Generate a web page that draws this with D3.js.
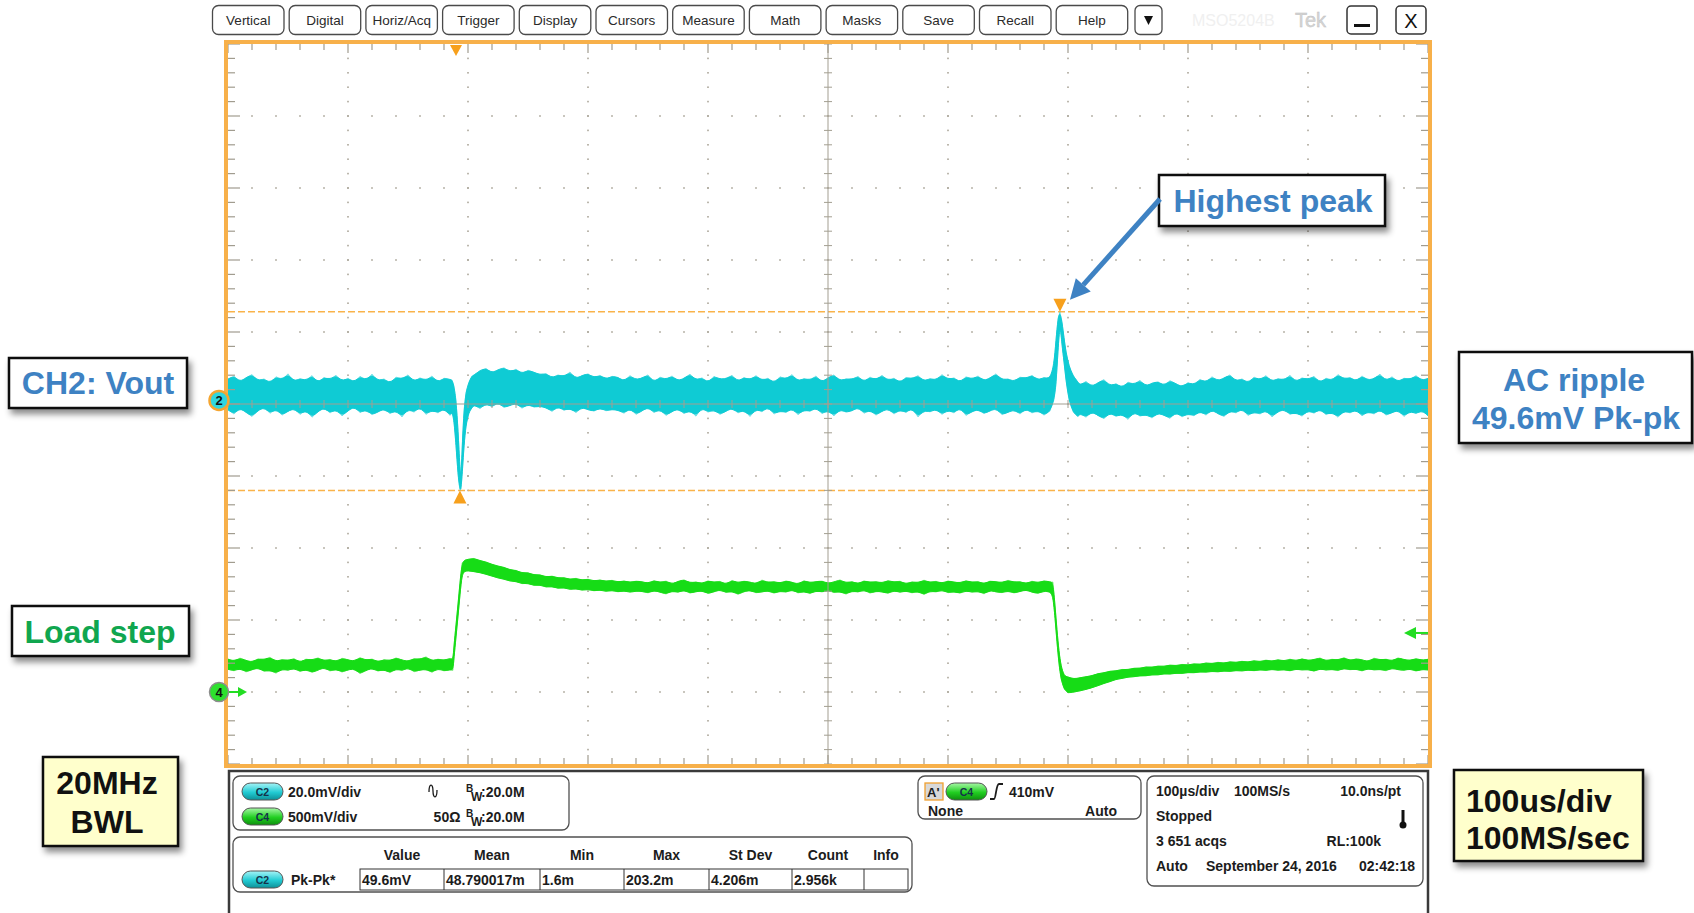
<!DOCTYPE html>
<html>
<head>
<meta charset="utf-8">
<script src="https://cdn.jsdelivr.net/npm/d3@7"></script>
<style>
  html, body { margin: 0; padding: 0; background: #fff; }
  svg { display: block; font-family: "Liberation Sans", Arial, sans-serif; }
</style>
</head>
<body>
<svg id="scope" width="1694" height="913"></svg>
<script>
// ---------------- menu / readout text ----------------
const menuLabels = ["Vertical", "Digital", "Horiz/Acq", "Trigger", "Display", "Cursors",
                    "Measure", "Math", "Masks", "Save", "Recall", "Help"];

const chanLabels = ["C2", "C4"];
const chanScales = ["20.0mV/div", "500mV/div"];
const chanCoupling = ["", "50\u03A9"];
const chanBandwidth = [":20.0M", ":20.0M"];

const measHeaders = ["Value", "Mean", "Min", "Max", "St Dev", "Count", "Info"];
const measStats = ["48.790017m", "1.6m", "203.2m", "4.206m", "2.956k", ""];

const trigLevel = 410; // mV on CH4

// ---------------- CH2 (Vout, 20 mV/div) envelope, mV, 5 us display grid from -190 us ----------------
const ch2Hi = [
  5.9, 6.8, 5.1, 6.3, 7.2, 5.4, 6.0, 4.8, 6.6, 5.7, 7.4, 5.2, 6.1, 5.5, 6.9, 4.9, 6.4, 5.8, 7.0, 5.3,
  6.2, 5.0, 6.7, 5.6, 7.3, 5.4, 6.0, 4.7, 6.5, 5.9, 7.1, 5.2, 6.3, 5.5, 6.8, 5.0, 6.2, 5.8,
  0.1, -15.0, 4.6,
  7.0, 8.3, 8.9, 7.6, 8.5, 9.1, 7.9, 8.7, 7.4, 8.4, 7.8, 7.1,
  7.5, 6.2, 7.1, 6.6, 7.9, 6.0, 6.9, 7.4, 6.3, 7.0, 5.9, 6.7,
  6.4, 5.3, 6.9, 5.7, 6.2, 7.1, 5.0, 6.5, 5.8, 6.8, 5.4, 6.1, 7.3, 5.6, 6.3, 4.9, 6.7, 5.9, 6.0, 7.0,
  5.2, 6.4, 5.7, 6.9, 5.5, 6.2, 4.8, 6.6, 5.9, 7.2, 5.3, 6.1, 5.6, 6.8, 5.0, 6.3, 7.1, 5.4, 6.0, 5.8,
  6.7, 5.1, 6.5, 5.7, 7.0, 5.5, 6.2, 4.9, 6.4, 6.0, 6.9, 5.3, 6.1, 5.6, 7.2, 5.8, 6.3, 5.0, 6.6, 5.9,
  6.8, 5.4, 6.2, 7.4, 5.7, 6.0, 5.2, 6.5, 6.1, 7.0, 5.6, 6.4, 5.9,
  16.8, 21.8, 10.3, 6.3,
  4.2, 5.3, 3.8, 4.9, 5.8, 4.0, 4.7, 3.5, 5.1, 4.4, 5.6, 3.9, 4.8, 5.2, 4.1, 5.5, 4.6, 3.7, 5.0, 4.3,
  5.9, 5.0, 6.6, 5.4, 6.2, 7.1, 5.3, 6.0, 4.8, 6.5, 5.7, 6.9, 5.2, 6.1, 5.6, 7.0, 5.1, 6.3, 5.8, 6.7,
  4.9, 6.2, 5.5, 7.2, 5.9, 6.4, 5.3, 6.8, 5.6, 6.0, 7.3, 5.4, 6.6, 5.1, 6.2, 5.8, 6.9, 5.5, 6.1
];
const ch2Lo = [
  -2.6, -3.8, -2.1, -3.3, -4.5, -2.8, -1.9, -3.6, -2.4, -4.1, -3.0, -2.2, -3.9, -2.7, -4.7, -3.1, -2.0, -3.5, -2.5, -4.3,
  -2.9, -1.7, -3.4, -2.6, -4.0, -3.2, -2.3, -3.7, -2.8, -4.6, -2.4, -3.3, -1.8, -3.9, -2.7, -3.5, -2.2, -4.2,
  -12.4, -21.0, -4.1,
  -1.2, -2.3, -0.9, -1.8, -0.6, -2.0, -1.4, -0.8, -2.2, -1.1, -1.9, -1.6,
  -2.0, -3.1, -1.7, -2.8, -2.2, -3.4, -1.9, -2.6, -3.0, -2.1, -2.9, -2.5,
  -2.7, -3.6, -2.2, -3.9, -2.9, -1.9, -3.4, -2.5, -4.2, -3.1, -2.3, -3.7, -2.8, -4.4, -2.0, -3.3, -2.6, -3.9, -3.0, -2.1,
  -3.5, -2.7, -4.5, -2.4, -3.2, -1.8, -3.8, -2.9, -3.4, -2.2, -4.0, -2.6, -3.1, -2.0, -3.7, -2.8, -4.3, -2.5, -3.3, -2.9,
  -1.9, -3.6, -2.7, -4.1, -3.0, -2.3, -3.8, -2.6, -3.4, -2.1, -4.6, -2.8, -3.2, -2.4, -3.9, -2.7, -3.5, -2.0, -4.2, -3.1,
  -2.5, -3.7, -2.9, -2.2, -4.0, -3.3, -2.6, -3.8, -2.3, -3.5, -2.8, -4.1, -3.0,
  4.3, 15.4, 1.9, -3.6,
  -3.6, -4.7, -3.1, -4.2, -5.1, -3.4, -4.5, -3.8, -5.3, -3.2, -4.4, -3.9, -4.9, -3.5, -4.1, -5.0, -3.3, -4.6, -3.7, -4.3,
  -3.0, -4.1, -2.6, -3.7, -4.5, -2.9, -3.5, -2.3, -4.2, -3.2, -3.8, -2.7, -4.6, -3.1, -2.5, -3.9, -3.4, -4.4, -2.8, -3.6,
  -2.4, -4.0, -3.3, -4.7, -2.9, -3.5, -2.6, -4.3, -3.1, -3.8, -2.5, -4.1, -3.4, -2.7, -4.5, -3.0, -3.7, -2.8, -4.2
];
// CH2 detail at the load step (us, mV)
const ch2StepT  = [-3.3, -1.7, 0, 1.7, 3.3, 4.2, 5.4, 6.7, 8.3, 10.8, 13.3];
const ch2StepHi = [5.7, 4.0, 0.1, -8.2, -19.3, -21.6, -11.0, -2.7, 2.3, 5.1, 6.8];
const ch2StepLo = [-3.2, -5.4, -12.4, -20.7, -25.0, -24.6, -19.3, -12.4, -6.8, -3.2, -2.1];
// CH2 detail at the load release (us, mV)
const ch2RelT  = [498.3, 500, 501.7, 503.3, 505, 506.7, 508.3, 510.8, 514.2, 518.3];
const ch2RelHi = [9.8, 16.8, 22.9, 24.6, 21.8, 17.3, 13.4, 9.6, 6.8, 5.1];
const ch2RelLo = [0.1, 4.3, 14.0, 21.8, 15.4, 10.7, 5.7, 0.1, -3.2, -4.6];

// ---------------- CH4 (load step, 500 mV/div) envelope, mV, same grid ----------------
const ch4Hi = [
  228, 214, 236, 219, 207, 231, 224, 242, 211, 226, 218, 233, 205, 229, 221, 238, 216, 227, 210, 235,
  223, 213, 240, 220, 230, 208, 225, 217, 237, 222, 212, 232, 226, 245, 215, 229, 219, 234,
  465, 896,
  921, 928, 912, 903, 886,
  874, 866, 848, 845, 826, 829, 812, 815, 798, 806, 791, 795, 781, 790, 776, 784, 770, 779, 768, 776,
  763, 772, 761, 770,
  766, 754, 775, 760, 771, 749, 768, 780, 757, 765, 752, 773, 761, 769, 747, 776, 758, 770, 763, 751,
  778, 760, 767, 755, 772, 762, 748, 774, 759, 766, 771, 753, 764, 779, 757, 768, 750, 773, 761, 767,
  756, 775, 762, 770, 749, 766, 758, 777, 760, 769, 754, 772, 763, 757, 774, 761, 768, 750, 771, 765,
  759, 776, 762, 767, 752, 770, 758, 773, 764,
  500, 150, 104,
  90, 99, 106, 113, 128, 133, 145, 146, 157, 155, 166, 164, 175, 171, 181, 177, 188, 182, 192, 186,
  197, 191, 203, 196, 207, 199, 211, 204, 214, 206, 219, 209, 223, 212, 226, 214, 229, 216, 232, 218,
  225, 237, 215, 228, 221, 240, 217, 231, 224, 210, 236, 222, 229, 214, 238, 225, 218, 233, 220, 227
];
const ch4Lo = [
  158, 147, 164, 139, 155, 168, 143, 151, 130, 160, 149, 166, 141, 157, 135, 152, 170, 145, 159, 138,
  154, 162, 127, 150, 165, 144, 156, 133, 161, 148, 169, 140, 153, 158, 136, 163, 146, 155,
  382, 819,
  842, 836, 829, 818, 805,
  792, 784, 770, 768, 752, 755, 739, 744, 728, 733, 719, 725, 711, 718, 706, 713, 702, 709, 698, 706,
  695, 703, 692, 701,
  699, 688, 705, 694, 680, 702, 691, 708, 686, 697, 703, 683, 696, 710, 690, 700, 677, 698, 706, 689,
  695, 704, 685, 701, 692, 711, 687, 699, 682, 703, 694, 707, 690, 698, 679, 702, 693, 709, 686, 700,
  696, 684, 705, 691, 703, 688, 699, 676, 701, 694, 708, 689, 697, 685, 704, 692, 700, 681, 706, 695,
  690, 702, 687, 698, 710, 693, 684, 701, 696,
  420, 60, -7,
  0, 8, 18, 30, 44, 60, 72, 88, 94, 104, 106, 113, 112, 120, 118, 127, 124, 131, 128, 136,
  133, 140, 137, 144, 139, 147, 142, 150, 145, 153, 147, 155, 149, 158, 150, 156, 146, 160, 152, 157,
  143, 162, 151, 158, 148, 165, 154, 160, 145, 163, 152, 158, 147, 166, 155, 150, 161, 144, 157, 153
];
// CH4 detail at the rising and falling edges (us, mV)
const ch4RiseT  = [-2.5, -1.7, 0, 1.7, 3.3, 5, 7.5];
const ch4RiseHi = [222, 319, 465, 611, 757, 896, 917];
const ch4RiseLo = [150, 236, 382, 528, 674, 819, 840];
const ch4FallT  = [497.5, 499.2, 500.8, 502.5, 504.2, 506.7, 510];
const ch4FallHi = [764, 597, 431, 278, 181, 111, 104];
const ch4FallLo = [667, 514, 347, 194, 90, 21, -7];

// ---------------- geometry & scales ----------------
const X0 = 228, X1 = 1428, Y0 = 44, Y1 = 764;
const timeScale = d3.scaleLinear().domain([-190, 810]).range([X0, X1]);   // 100 us/div
const divY = d3.scaleLinear().domain([-5, 5]).range([Y1, Y0]);
const ch2Div = 20, ch2Pos = 0.05;
const ch2Scale = d3.scaleLinear().domain([(-5 - ch2Pos) * ch2Div, (5 - ch2Pos) * ch2Div]).range([Y1, Y0]);
const ch4Div = 500, ch4Pos = -4;
const ch4Scale = d3.scaleLinear().domain([(-5 - ch4Pos) * ch4Div, (5 - ch4Pos) * ch4Div]).range([Y1, Y0]);
const gridT = d3.range(ch2Hi.length).map(i => -190 + 5 * i);

function envelope(hi, lo, events) {
  let pts = gridT.map((t, i) => ({ t, hi: hi[i], lo: lo[i] }));
  events.forEach(([T]) => {
    const [a, b] = d3.extent(T);
    pts = pts.filter(p => p.t < a || p.t > b);
  });
  events.forEach(([T, H, L]) => T.forEach((t, i) => pts.push({ t, hi: H[i], lo: L[i] })));
  return pts.sort((p, q) => p.t - q.t);
}
const ch2Pts = envelope(ch2Hi, ch2Lo, [[ch2StepT, ch2StepHi, ch2StepLo], [ch2RelT, ch2RelHi, ch2RelLo]]);
const ch4Pts = envelope(ch4Hi, ch4Lo, [[ch4RiseT, ch4RiseHi, ch4RiseLo], [ch4FallT, ch4FallHi, ch4FallLo]]);

const ch2MaxPt = ch2Pts.reduce((a, b) => (b.hi > a.hi ? b : a));
const ch2MinPt = ch2Pts.reduce((a, b) => (b.lo < a.lo ? b : a));
const pkpk = (ch2MaxPt.hi - ch2MinPt.lo).toFixed(1);

const svg = d3.select("#scope");
const defs = svg.append("defs");
const shadow = defs.append("filter").attr("id", "shadow")
  .attr("x", "-20%").attr("y", "-30%").attr("width", "150%").attr("height", "180%");
shadow.append("feDropShadow").attr("dx", 3).attr("dy", 5).attr("stdDeviation", 3)
  .attr("flood-color", "#000").attr("flood-opacity", 0.45);
function pillGradient(id, c0, c1, c2) {
  const g = defs.append("linearGradient").attr("id", id).attr("x1", 0).attr("y1", 0).attr("x2", 0).attr("y2", 1);
  g.append("stop").attr("offset", "0%").attr("stop-color", c0);
  g.append("stop").attr("offset", "55%").attr("stop-color", c1);
  g.append("stop").attr("offset", "100%").attr("stop-color", c2);
}
pillGradient("pillC2", "#a6f4f7", "#22cbd3", "#0d8f97");
pillGradient("pillC4", "#a6f7a6", "#22cf22", "#0e8f0e");
defs.append("clipPath").attr("id", "plotClip").append("rect")
  .attr("x", X0).attr("y", Y0).attr("width", X1 - X0).attr("height", Y1 - Y0);

// ---------------- top menu bar ----------------
const menu = svg.append("g");
menuLabels.forEach((lab, i) => {
  const x = 212.5 + 76.7 * i;
  menu.append("rect").attr("x", x).attr("y", 5.5).attr("width", 71.5).attr("height", 29).attr("rx", 6)
    .attr("fill", "#fff").attr("stroke", "#4a4a4a").attr("stroke-width", 1.3);
  menu.append("text").attr("x", x + 35.75).attr("y", 24.5).attr("text-anchor", "middle")
    .attr("font-size", 13.5).attr("fill", "#2a2a2a").text(lab);
});
menu.append("rect").attr("x", 1135).attr("y", 5.5).attr("width", 27).attr("height", 29).attr("rx", 5)
  .attr("fill", "#fff").attr("stroke", "#4a4a4a").attr("stroke-width", 1.3);
menu.append("path").attr("d", "M1144,16 L1153,16 L1148.5,25 Z").attr("fill", "#111");
menu.append("text").attr("x", 1192).attr("y", 26).attr("font-size", 16).attr("fill", "#f0f0f0").text("MSO5204B");
menu.append("text").attr("x", 1295).attr("y", 27).attr("font-size", 20).attr("fill", "#d6d6d6")
  .attr("stroke", "#bdbdbd").attr("stroke-width", 0.4).text("Tek");
menu.append("rect").attr("x", 1347).attr("y", 6).attr("width", 30).attr("height", 28).attr("rx", 4)
  .attr("fill", "#fff").attr("stroke", "#333").attr("stroke-width", 1.5);
menu.append("rect").attr("x", 1354).attr("y", 24).attr("width", 16).attr("height", 3).attr("fill", "#111");
menu.append("rect").attr("x", 1396).attr("y", 6).attr("width", 30).attr("height", 28).attr("rx", 4)
  .attr("fill", "#fff").attr("stroke", "#333").attr("stroke-width", 1.5);
menu.append("text").attr("x", 1411).attr("y", 28).attr("text-anchor", "middle").attr("font-size", 20)
  .attr("fill", "#111").text("X");

// ---------------- graticule ----------------
const grat = svg.append("g");
const minorT = d3.range(0, 51).map(i => -190 + 20 * i);
const minorD = d3.range(0, 51).map(i => -5 + 0.2 * i);
const majorT = d3.range(1, 10).map(i => -190 + 100 * i).filter(t => t !== 310);
const majorD = [-4, -3, -2, -1, 1, 2, 3, 4];
const dotColor = "#aca79b";
majorT.forEach(t => minorD.slice(1, -1).forEach(d => {
  grat.append("rect").attr("x", timeScale(t) - 0.8).attr("y", divY(d) - 0.8)
    .attr("width", 1.6).attr("height", 1.6).attr("fill", dotColor);
}));
majorD.forEach(d => minorT.slice(1, -1).forEach(t => {
  grat.append("rect").attr("x", timeScale(t) - 0.8).attr("y", divY(d) - 0.8)
    .attr("width", 1.6).attr("height", 1.6).attr("fill", dotColor);
}));

// cursors (peak / trough of CH2)
const cursors = svg.append("g");
[ch2MaxPt.hi, ch2MinPt.lo].forEach(v => {
  cursors.append("line").attr("x1", X0).attr("x2", X1).attr("y1", ch2Scale(v)).attr("y2", ch2Scale(v))
    .attr("stroke", "#f9b34a").attr("stroke-width", 1.5).attr("stroke-dasharray", "7,3");
});

// ---------------- traces: min/max envelope, fuzzy outer edge + dense core ----------------
const traces = svg.append("g").attr("clip-path", "url(#plotClip)");
function drawTrace(pts, scale, color) {
  const outer = d3.area().x(d => timeScale(d.t)).y0(d => scale(d.lo)).y1(d => scale(d.hi));
  const core = d3.area().curve(d3.curveBasis).x(d => timeScale(d.t)).y0(d => scale(d.lo)).y1(d => scale(d.hi));
  traces.append("path").attr("d", outer(pts)).attr("fill", color).attr("fill-opacity", 0.55)
    .attr("stroke", color).attr("stroke-opacity", 0.45).attr("stroke-width", 0.8);
  traces.append("path").attr("d", core(pts)).attr("fill", color)
    .attr("stroke", color).attr("stroke-width", 1).attr("stroke-linejoin", "round");
}
drawTrace(ch4Pts, ch4Scale, "#16dc16");
drawTrace(ch2Pts, ch2Scale, "#0fcbd4");

// center cross with ticks
const cross = svg.append("g").attr("stroke", "#a39e91").attr("stroke-width", 1);
const cx = timeScale(310), cy = divY(0);
cross.append("line").attr("x1", cx).attr("x2", cx).attr("y1", Y0).attr("y2", Y1);
cross.append("line").attr("x1", X0).attr("x2", X1).attr("y1", cy).attr("y2", cy);
minorT.forEach(t => cross.append("line").attr("x1", timeScale(t)).attr("x2", timeScale(t))
  .attr("y1", cy - 4).attr("y2", cy + 4));
minorD.forEach(d => cross.append("line").attr("x1", cx - 4).attr("x2", cx + 4)
  .attr("y1", divY(d)).attr("y2", divY(d)));

// frame ticks
const fticks = svg.append("g").attr("stroke", "#a19c8f").attr("stroke-width", 1.2);
minorT.forEach((t, i) => {
  const x = timeScale(t), len = i % 5 === 0 ? 9 : 6;
  fticks.append("line").attr("x1", x).attr("x2", x).attr("y1", Y0).attr("y2", Y0 + len);
  fticks.append("line").attr("x1", x).attr("x2", x).attr("y1", Y1).attr("y2", Y1 - len);
});
minorD.forEach((d, i) => {
  const y = divY(d), len = i % 5 === 0 ? 12 : 7;
  fticks.append("line").attr("x1", X0).attr("x2", X0 + len).attr("y1", y).attr("y2", y);
  fticks.append("line").attr("x1", X1).attr("x2", X1 - len).attr("y1", y).attr("y2", y);
});

// orange frame
svg.append("rect").attr("x", X0 - 2).attr("y", Y0 - 2).attr("width", X1 - X0 + 4).attr("height", Y1 - Y0 + 4)
  .attr("fill", "none").attr("stroke", "#f7b04a").attr("stroke-width", 4);

// markers
const orange = "#f7a01c";
const tx0 = timeScale(0);
svg.append("path").attr("d", `M${tx0 - 6},${Y0 + 1} L${tx0 + 6},${Y0 + 1} L${tx0},${Y0 + 12} Z`).attr("fill", orange);
const pkX = timeScale(ch2MaxPt.t), pkY = ch2Scale(ch2MaxPt.hi);
svg.append("path").attr("d", `M${pkX - 6.5},${pkY - 13} L${pkX + 6.5},${pkY - 13} L${pkX},${pkY} Z`).attr("fill", orange);
const trX = timeScale(ch2MinPt.t), trY = ch2Scale(ch2MinPt.lo);
svg.append("path").attr("d", `M${trX - 6.5},${trY + 13} L${trX + 6.5},${trY + 13} L${trX},${trY} Z`).attr("fill", orange);

// channel reference markers
const c2y = ch2Scale(0);
svg.append("circle").attr("cx", 219).attr("cy", c2y).attr("r", 9.5)
  .attr("fill", "#2fd6de").attr("stroke", "#f5a531").attr("stroke-width", 2.5);
svg.append("text").attr("x", 219).attr("y", c2y + 4.5).attr("text-anchor", "middle")
  .attr("font-size", 13).attr("font-weight", "bold").attr("fill", "#111").text("2");
const c4y = ch4Scale(0);
svg.append("line").attr("x1", 228).attr("x2", 240).attr("y1", c4y).attr("y2", c4y)
  .attr("stroke", "#22dd22").attr("stroke-width", 2);
svg.append("path").attr("d", `M238,${c4y - 5} L247,${c4y} L238,${c4y + 5} Z`).attr("fill", "#22dd22");
svg.append("circle").attr("cx", 219).attr("cy", c4y).attr("r", 9.5)
  .attr("fill", "#2ee02e").attr("stroke", "#8c8c8c").attr("stroke-width", 1.5);
svg.append("text").attr("x", 219).attr("y", c4y + 4.5).attr("text-anchor", "middle")
  .attr("font-size", 13).attr("font-weight", "bold").attr("fill", "#111").text("4");
const tly = ch4Scale(trigLevel);
svg.append("line").attr("x1", 1414).attr("x2", X1).attr("y1", tly).attr("y2", tly)
  .attr("stroke", "#22dd22").attr("stroke-width", 2);
svg.append("path").attr("d", `M1404,${tly} L1416,${tly - 6} L1416,${tly + 6} Z`).attr("fill", "#22dd22");

// ---------------- bottom readout panel ----------------
const panel = svg.append("g");
panel.append("path").attr("d", "M229,913 L229,771 L1428,771 L1428,913")
  .attr("fill", "none").attr("stroke", "#3a3a3a").attr("stroke-width", 2.5);
function box(x, y, w, h) {
  panel.append("rect").attr("x", x).attr("y", y).attr("width", w).attr("height", h).attr("rx", 7)
    .attr("fill", "#fff").attr("stroke", "#505050").attr("stroke-width", 1.3);
}
function pill(x, cy, label, grad) {
  panel.append("rect").attr("x", x).attr("y", cy - 8.5).attr("width", 41).attr("height", 17).attr("rx", 8.5)
    .attr("fill", `url(#${grad})`).attr("stroke", "#555").attr("stroke-width", 1);
  panel.append("text").attr("x", x + 20.5).attr("y", cy + 4).attr("text-anchor", "middle")
    .attr("font-size", 10.5).attr("font-weight", "bold").attr("fill", "#14324a").text(label);
}
function rtext(x, y, s, anchor) {
  return panel.append("text").attr("x", x).attr("y", y).attr("text-anchor", anchor || "start")
    .attr("font-size", 14).attr("font-weight", "bold").attr("fill", "#1c1c1c").text(s);
}

// vertical settings
box(233, 776, 336, 54);
chanLabels.forEach((c, i) => {
  const cyy = 791.5 + 25 * i;
  pill(242, cyy, c, i === 0 ? "pillC2" : "pillC4");
  rtext(288, cyy + 5, chanScales[i]);
  rtext(447, cyy + 5, chanCoupling[i], "middle");
  panel.append("text").attr("x", 466).attr("y", cyy).attr("font-size", 10).attr("font-weight", "bold")
    .attr("fill", "#1c1c1c").text("B");
  panel.append("text").attr("x", 471).attr("y", cyy + 9).attr("font-size", 12).attr("font-weight", "bold")
    .attr("fill", "#1c1c1c").text("W");
  rtext(481, cyy + 5, chanBandwidth[i]);
});
// AC coupling glyph for CH2
panel.append("path").attr("d", "M429,792 C429,783 433,783 433,791 C433,799 437,799 437,790")
  .attr("fill", "none").attr("stroke", "#1c1c1c").attr("stroke-width", 1.3);

// measurement table
box(233, 837, 679, 55);
const colEdges = [360, 444, 540, 624, 709, 792, 864, 908];
measHeaders.forEach((h, i) => rtext((colEdges[i] + colEdges[i + 1]) / 2, 860, h, "middle"));
panel.append("rect").attr("x", colEdges[0]).attr("y", 869).attr("width", colEdges[7] - colEdges[0]).attr("height", 21)
  .attr("fill", "none").attr("stroke", "#333").attr("stroke-width", 1);
colEdges.slice(1, -1).forEach(x => panel.append("line").attr("x1", x).attr("x2", x)
  .attr("y1", 869).attr("y2", 890).attr("stroke", "#333").attr("stroke-width", 1));
pill(242, 879.5, "C2", "pillC2");
rtext(291, 885, "Pk-Pk*");
[pkpk + "mV"].concat(measStats).forEach((v, i) => rtext(colEdges[i] + 2, 885, v));

// trigger settings
box(918, 776, 223, 43);
panel.append("rect").attr("x", 925).attr("y", 783).attr("width", 18).attr("height", 17)
  .attr("fill", "#d8d8d8").attr("stroke", "#f0a030").attr("stroke-width", 1.3);
rtext(927, 797, "A'").attr("font-size", 13);
pill(946, 791.5, "C4", "pillC4");
panel.append("path").attr("d", "M990,799 L994,799 C996,799 996,784 999,784 L1003,784")
  .attr("fill", "none").attr("stroke", "#1c1c1c").attr("stroke-width", 1.8);
rtext(1009, 797, trigLevel + "mV");
rtext(928, 816, "None");
rtext(1117, 816, "Auto", "end");

// horizontal settings
box(1147, 776, 276, 110);
rtext(1156, 796, "100\u00B5s/div");
rtext(1234, 796, "100MS/s");
rtext(1401, 796, "10.0ns/pt", "end");
rtext(1156, 821, "Stopped");
panel.append("line").attr("x1", 1403).attr("x2", 1403).attr("y1", 810).attr("y2", 824)
  .attr("stroke", "#111").attr("stroke-width", 3);
panel.append("circle").attr("cx", 1403).attr("cy", 825).attr("r", 3.5).attr("fill", "#111");
rtext(1156, 846, "3 651 acqs");
rtext(1381, 846, "RL:100k", "end");
rtext(1156, 871, "Auto");
rtext(1206, 871, "September 24, 2016");
rtext(1415, 871, "02:42:18", "end");

// ---------------- annotation callouts ----------------
const notes = svg.append("g");
function callout(x, y, w, h, fill) {
  notes.append("rect").attr("x", x).attr("y", y).attr("width", w).attr("height", h)
    .attr("fill", fill).attr("stroke", "#111").attr("stroke-width", 2.5).attr("filter", "url(#shadow)");
}
function note(x, y, s, color, anchor) {
  notes.append("text").attr("x", x).attr("y", y).attr("text-anchor", anchor || "middle")
    .attr("font-size", 32).attr("font-weight", "bold").attr("fill", color).text(s);
}
const blue = "#3e82c3", dkGreen = "#10a64f";
callout(9, 358, 178, 50, "#fff");
note(98, 394, "CH2: Vout", blue);
callout(12, 606, 177, 50, "#fff");
note(100, 643, "Load step", dkGreen);
callout(43, 757, 135, 89, "#ffffcc");
note(107, 794, "20MHz", "#111");
note(107, 833, "BWL", "#111");
callout(1159, 175, 226, 51, "#fff");
note(1273, 212, "Highest peak", blue);
callout(1459, 352, 233, 91, "#fff");
note(1574, 391, "AC ripple", blue);
note(1576, 429, pkpk + "mV Pk-pk", blue);
callout(1454, 770, 189, 91, "#ffffcc");
note(1466, 812, "100us/div", "#111", "start");
note(1466, 849, "100MS/sec", "#111", "start");

// arrow to the highest peak
const sx = 1160, sy = 199, tipX = pkX + 10, tipY = pkY - 12;
const len = Math.hypot(tipX - sx, tipY - sy), ux = (tipX - sx) / len, uy = (tipY - sy) / len;
const bx = tipX - 20 * ux, by = tipY - 20 * uy, nx = -uy, ny = ux;
notes.append("line").attr("x1", sx).attr("y1", sy).attr("x2", bx).attr("y2", by)
  .attr("stroke", blue).attr("stroke-width", 5);
notes.append("path")
  .attr("d", `M${tipX},${tipY} L${bx + 10 * nx},${by + 10 * ny} L${bx - 10 * nx},${by - 10 * ny} Z`)
  .attr("fill", blue);
</script>
</body>
</html>
